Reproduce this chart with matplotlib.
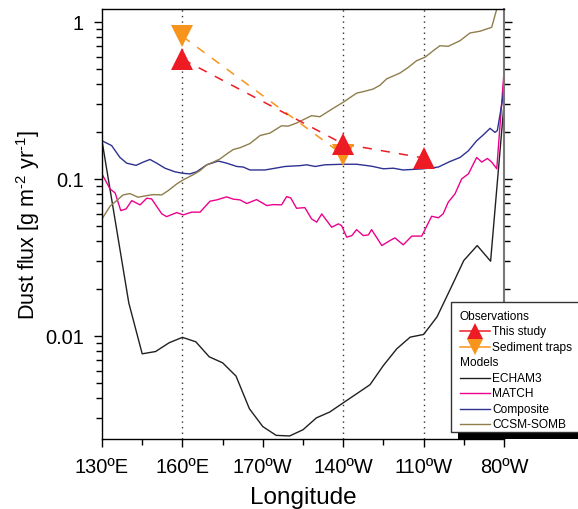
import numpy as np
import matplotlib
matplotlib.use("Agg")
import matplotlib.pyplot as plt
from matplotlib.lines import Line2D
from matplotlib.patches import Rectangle
from matplotlib.ticker import FixedLocator, NullFormatter

plt.rcParams["font.family"] = ["Liberation Sans", "DejaVu Sans"]
plt.rcParams["mathtext.fontset"] = "custom"
plt.rcParams["mathtext.rm"] = "Liberation Sans"
plt.rcParams["mathtext.it"] = "Liberation Sans:italic"

# longitude in degrees east (0-360)
echam_lon = [130, 140, 145, 150, 155, 160, 165, 170, 175, 180, 185, 190, 195,
             200, 205, 210, 215, 220, 225, 230, 235, 240, 245, 250, 255, 260,
             265, 270, 275, 280]
echam_val = [0.175, 0.0162, 0.00768, 0.00794, 0.00902, 0.00978, 0.00916,
             0.00735, 0.00673, 0.00554, 0.00343, 0.00264, 0.00232, 0.00230,
             0.00252, 0.00300, 0.00327, 0.00374, 0.00427, 0.00488, 0.00647,
             0.00827, 0.00981, 0.0102, 0.0132, 0.0199, 0.0302, 0.0376,
             0.0299, 0.30]

match_lon = [130.3, 133.0, 134.9, 137.0, 139.0, 141.1, 144.2, 146.7, 148.5,
             152.3, 154.1, 157.9, 160.3, 163.5, 166.6, 170.3, 172.8, 176.5,
             179.0, 181.5, 184.0, 187.7, 191.5, 193.9, 197.0, 198.9, 200.4,
             202.6, 205.7, 208.2, 210.1, 212.0, 215.7, 218.2, 219.4, 221.3,
             223.2, 225.0, 227.5, 229.4, 230.6, 234.4, 237.5, 239.3, 242.4,
             245.6, 249.3, 253.0, 255.5, 257.3, 259.2, 261.7, 264.2, 266.7,
             269.8, 271.7, 273.8, 275.4, 277.3, 280.0]
match_val = [0.105, 0.0863, 0.0814, 0.0628, 0.0644, 0.0727, 0.0683, 0.0753,
             0.0746, 0.0599, 0.0575, 0.0610, 0.0590, 0.0614, 0.0614, 0.0721,
             0.0735, 0.0768, 0.0743, 0.0735, 0.0697, 0.0738, 0.0676, 0.0686,
             0.0683, 0.0771, 0.0757, 0.0650, 0.0656, 0.0556, 0.0530, 0.0598,
             0.0492, 0.0517, 0.0504, 0.0425, 0.0435, 0.0475, 0.0435, 0.0440,
             0.0475, 0.0376, 0.0405, 0.0421, 0.0380, 0.0432, 0.0432, 0.0578,
             0.0565, 0.0599, 0.0711, 0.0802, 0.100, 0.1076, 0.137, 0.128,
             0.135, 0.128, 0.116, 0.480]

comp_lon = [130.0, 133.6, 136.7, 139.2, 142.7, 145.4, 147.9, 150.4, 153.5,
            157.2, 160.1, 162.8, 165.3, 169.1, 173.4, 176.5, 180.3, 182.7,
            185.2, 190.8, 198.3, 203.9, 206.4, 209.5, 213.2, 220.0, 225.0,
            230.6, 235.0, 238.7, 242.4, 249.9, 255.5, 259.8, 263.6, 266.7,
            269.8, 272.3, 274.8, 276.6, 277.5, 279.5, 280.0]
comp_val = [0.175, 0.163, 0.137, 0.126, 0.122, 0.128, 0.133, 0.126, 0.117,
            0.111, 0.1086, 0.1076, 0.111, 0.123, 0.130, 0.126, 0.120, 0.119,
            0.114, 0.114, 0.120, 0.1215, 0.123, 0.120, 0.123, 0.124, 0.124,
            0.1205, 0.116, 0.117, 0.114, 0.116, 0.119, 0.129, 0.137, 0.151,
            0.175, 0.191, 0.210, 0.198, 0.203, 0.323, 0.385]

ccsm_lon = [130.0, 133.0, 135.5, 137.9, 140.4, 143.5, 146.7, 149.1, 152.3,
            154.7, 157.9, 160.3, 164.1, 166.6, 169.1, 171.5, 174.0, 176.5,
            179.0, 181.5, 185.2, 189.0, 192.7, 197.0, 199.5, 202.6, 208.2,
            211.3, 216.3, 220.0, 225.0, 228.1, 231.2, 233.7, 236.2, 241.2,
            244.3, 247.4, 250.5, 253.6, 256.1, 259.2, 263.6, 267.3, 271.0,
            275.4, 277.3, 280.0]
ccsm_val = [0.0556, 0.0670, 0.0728, 0.0791, 0.0806, 0.0764, 0.0783, 0.0794,
            0.0791, 0.0842, 0.0929, 0.0986, 0.1065, 0.113, 0.123, 0.128, 0.134,
            0.144, 0.154, 0.158, 0.168, 0.189, 0.196, 0.218, 0.217, 0.227,
            0.253, 0.249, 0.282, 0.308, 0.352, 0.362, 0.374, 0.395, 0.434,
            0.473, 0.514, 0.567, 0.596, 0.656, 0.706, 0.700, 0.760, 0.851,
            0.873, 0.925, 1.21, 1.9]

study_lon = [160, 220, 250]
study_val = [0.58, 0.167, 0.136]
traps_lon = [160, 220]
traps_val = [0.81, 0.142]

site_lon = [160, 220, 250]

xtick_pos = [130, 160, 190, 220, 250, 280]
xtick_lab = ["130ºE", "160ºE", "170ºW", "140ºW", "110ºW", "80ºW"]
ytick_pos = [0.01, 0.1, 1]
ytick_lab = ["0.01", "0.1", "1"]

C_ECHAM = "#231f20"
C_MATCH = "#ec008c"
C_COMP = "#2e3192"
C_CCSM = "#8f7d4c"
C_STUDY = "#ed1c24"
C_TRAPS = "#f7941d"

W, H = 578, 510
fig = plt.figure(figsize=(W / 100, H / 100), dpi=100)
ax = fig.add_axes([102 / W, 1 - 440 / H, 402 / W, 430 / H])

for lon in site_lon:
    ax.axvline(lon, color="#333333", ls=(0, (1, 3)), lw=1.0, zorder=1)

ax.plot(echam_lon, echam_val, color=C_ECHAM, lw=1.0, zorder=2)
ax.plot(match_lon, match_val, color=C_MATCH, lw=1.0, zorder=2)
ax.plot(comp_lon, comp_val, color=C_COMP, lw=1.0, zorder=2)
ax.plot(ccsm_lon, ccsm_val, color=C_CCSM, lw=1.0, zorder=2)

ax.plot(traps_lon, traps_val, color=C_TRAPS, ls=(0, (6, 6)), lw=1.1, zorder=3)
ax.plot(study_lon, study_val, color=C_STUDY, ls=(0, (6, 6)), lw=1.1, zorder=3)
ax.plot(traps_lon, traps_val, "v", color=C_TRAPS, ms=15.5, mew=0, zorder=4)
ax.plot(study_lon, study_val, "^", color=C_STUDY, ms=15.5, mew=0, zorder=5)

ax.set_yscale("log")
ax.set_xlim(130, 280)
ax.set_ylim(0.0022, 1.21)

ax.set_xticks(xtick_pos)
ax.set_xticklabels(xtick_lab)
ax.xaxis.set_minor_locator(FixedLocator([145, 175, 205, 235, 265]))
ax.set_yticks(ytick_pos)
ax.set_yticklabels(ytick_lab)
minors = [m * 10.0 ** e for e in (-3, -2, -1, 0) for m in range(2, 10)]
ax.yaxis.set_minor_locator(FixedLocator(minors))
ax.yaxis.set_minor_formatter(NullFormatter())

ax.tick_params(axis="both", which="major", direction="out", length=6,
               width=1, labelsize=14.4, pad=7)
ax.tick_params(axis="both", which="minor", direction="out", length=4, width=1)
ax.tick_params(axis="y", which="both", right=True)
for side in ("left", "bottom", "top"):
    ax.spines[side].set_linewidth(1.0)
ax.spines["right"].set_color("#777777")
ax.spines["right"].set_linewidth(1.5)

ax.set_xlabel("Longitude", fontsize=17.5, labelpad=7)
ax.set_ylabel(r"Dust flux [g m$^{\text{-}2}$ yr$^{\text{-}1}$]", fontsize=15.5,
              labelpad=2)

# legend, drawn by hand so the section headers sit flush left
def fx(px):
    return px / W


def fy(py):
    return 1 - py / H


bx0, by0, bx1, by1 = 451, 303, 590, 433
fig.patches.append(Rectangle((fx(bx0 + 7), fy(by1 + 7)), fx(bx1 - bx0),
                             (by1 - by0) / H, transform=fig.transFigure,
                             facecolor="black", edgecolor="none", zorder=8))
fig.patches.append(Rectangle((fx(bx0), fy(by1)), fx(bx1 - bx0),
                             (by1 - by0) / H, transform=fig.transFigure,
                             facecolor="white", edgecolor="#333333", lw=1.0,
                             zorder=9))

rows = [
    ("Observations", None, None),
    ("This study", C_STUDY, "^"),
    ("Sediment traps", C_TRAPS, "v"),
    ("Models", None, None),
    ("ECHAM3", C_ECHAM, None),
    ("MATCH", C_MATCH, None),
    ("Composite", C_COMP, None),
    ("CCSM-SOMB", C_CCSM, None),
]
row_y = [317, 332, 347.5, 363.3, 378.7, 394.3, 410, 425]
for (label, color, marker), py in zip(rows, row_y):
    if color is None:
        fig.text(fx(460), fy(py), label, fontsize=8.6, va="center",
                 ha="left", zorder=10)
        continue
    fig.lines.append(Line2D([fx(460), fx(490)], [fy(py), fy(py)],
                            transform=fig.transFigure, color=color,
                            lw=1.0 if marker is None else 1.1, zorder=10))
    if marker is not None:
        fig.lines.append(Line2D([fx(475)], [fy(py)], transform=fig.transFigure,
                                marker=marker, color=color, ms=11, mew=0,
                                zorder=11))
    fig.text(fx(492), fy(py), label, fontsize=8.6, va="center", ha="left",
             zorder=10)

fig.savefig("out.png", dpi=100)
